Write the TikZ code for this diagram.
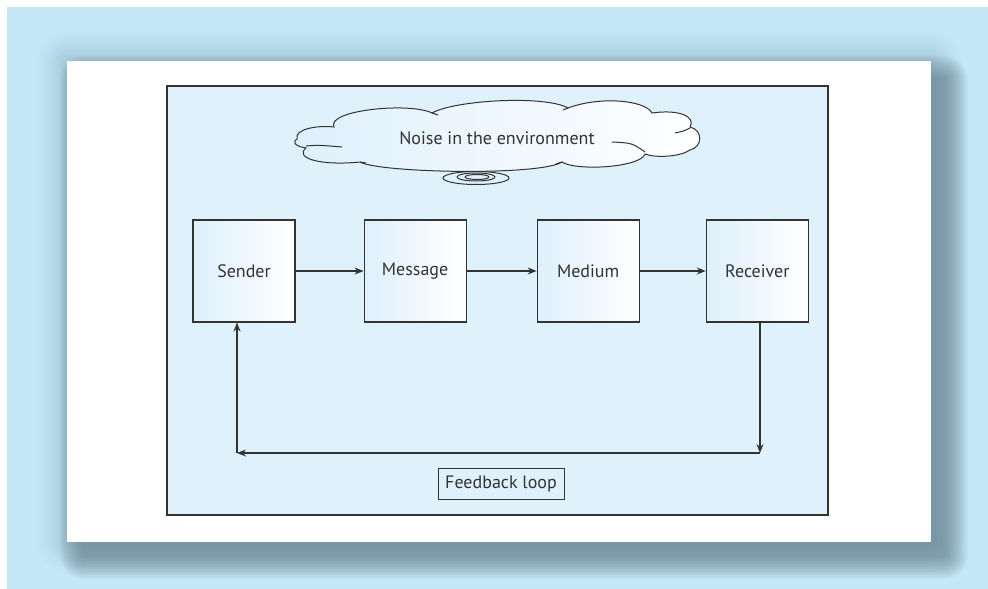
\documentclass[tikz,border=0pt]{standalone}
\usepackage{fontspec}
\setmainfont{PT Sans}
\usetikzlibrary{positioning,arrows.meta}
\definecolor{pagebg}{RGB}{197,232,248}
\definecolor{glowcol}{RGB}{162,198,214}
\definecolor{shadowdark}{RGB}{95,120,133}
\definecolor{framebg}{RGB}{223,241,251}
\definecolor{boxleft}{RGB}{222,240,252}
\definecolor{inktext}{RGB}{51,51,51}
\tikzset{
>={Stealth[length=9pt,width=7pt]},
stage/.style={rectangle, draw=inktext, line width=1.1pt, minimum width=102pt, minimum height=102pt, left color=boxleft, right color=white, text=inktext, font=\fontsize{18}{20}\selectfont},
line/.style={draw=inktext, line width=1.1pt, ->},
tag/.style={rectangle, draw=inktext, line width=1pt, fill=framebg, minimum width=126pt, minimum height=31pt, text=inktext, font=\fontsize{18}{20}\selectfont},
puff/.style={draw=inktext, line width=1pt},
}
\begin{document}
\begin{tikzpicture}[x=1pt, y=-1pt, node distance=68pt]
\useasboundingbox (0,0) rectangle (988,589);
\fill[white] (0,0) rectangle (988,589);
\fill[pagebg] (7,7) rectangle (988,589);

% soft glow and shadow round the page
\foreach \k in {34,32,...,0}{
  \pgfmathsetmacro{\mixp}{100*(1-\k/34)^1.4}
  \fill[glowcol!\mixp!pagebg, rounded corners=\k pt+2pt]
    (67-\k,61-\k) rectangle (931+\k,542+\k);
}
\foreach \k in {22,20,...,0}
  \fill[shadowdark, opacity=0.07, rounded corners=\k pt+2pt]
    (82-\k,78-\k) rectangle (946+\k,557+\k);
\fill[white] (67,61) rectangle (931,542);

% the frame
\draw[inktext, line width=1.4pt, fill=framebg] (167,86) rectangle (828,515);

% noise cloud
\draw[puff] (476,178) ellipse (33pt and 6.5pt);
\draw[puff] (476,177) ellipse (19pt and 4pt);
\draw[puff] (477,177) ellipse (12pt and 2.5pt);
\draw[puff, left color=boxleft, right color=white]
  (297,139) .. controls (294,129) and (318,125) .. (334,127)
  .. controls (326,110) and (410,102) .. (432,113)
  .. controls (455,100) and (545,95) .. (568,108)
  .. controls (600,96) and (645,100) .. (652,113)
  .. controls (680,109) and (696,117) .. (690,127)
  .. controls (703,130) and (703,147) .. (690,150)
  .. controls (680,157) and (655,158) .. (645,154)
  .. controls (640,168) and (575,171) .. (562,162)
  .. controls (540,176) and (380,173) .. (360,162)
  .. controls (320,166) and (294,158) .. (306,148)
  .. controls (293,146) and (293,141) .. (297,139) -- cycle;
\draw[puff] (306,146) .. controls (318,145) .. (342,147);
\draw[puff] (612,142) .. controls (632,143) .. (645,152);
\draw[puff] (675,133) .. controls (684,131) .. (690,128);
\draw[puff] (432,113) -- (438,115);
\draw[puff] (568,108) -- (563,110);
\draw[puff] (562,162) -- (556,164);
\draw[puff] (360,162) -- (366,163);
\node[text=inktext, font=\fontsize{18}{20}\selectfont] (noise) at (497,138) {Noise in the environment};

% the chain
\node[stage] (sender) at (244,271) {Sender};
\node[stage, right=of sender] (message) {Message};
\node[stage, right=70pt of message] (medium) {Medium};
\node[stage, right=66pt of medium] (receiver) {Receiver};

\draw[line] (sender) -- (message);
\draw[line] (message) -- (medium);
\draw[line] (medium) -- (receiver);

% feedback
\coordinate (fbR) at (760,453);
\coordinate (fbL) at (237,453);
\draw[line] (receiver.south -| fbR) -- (fbR);
\draw[line] (fbR) -- (fbL);
\draw[line] (fbL) -- (sender.south -| fbL);
\node[tag] (loop) at (501,484) {Feedback loop};
\end{tikzpicture}
\end{document}
